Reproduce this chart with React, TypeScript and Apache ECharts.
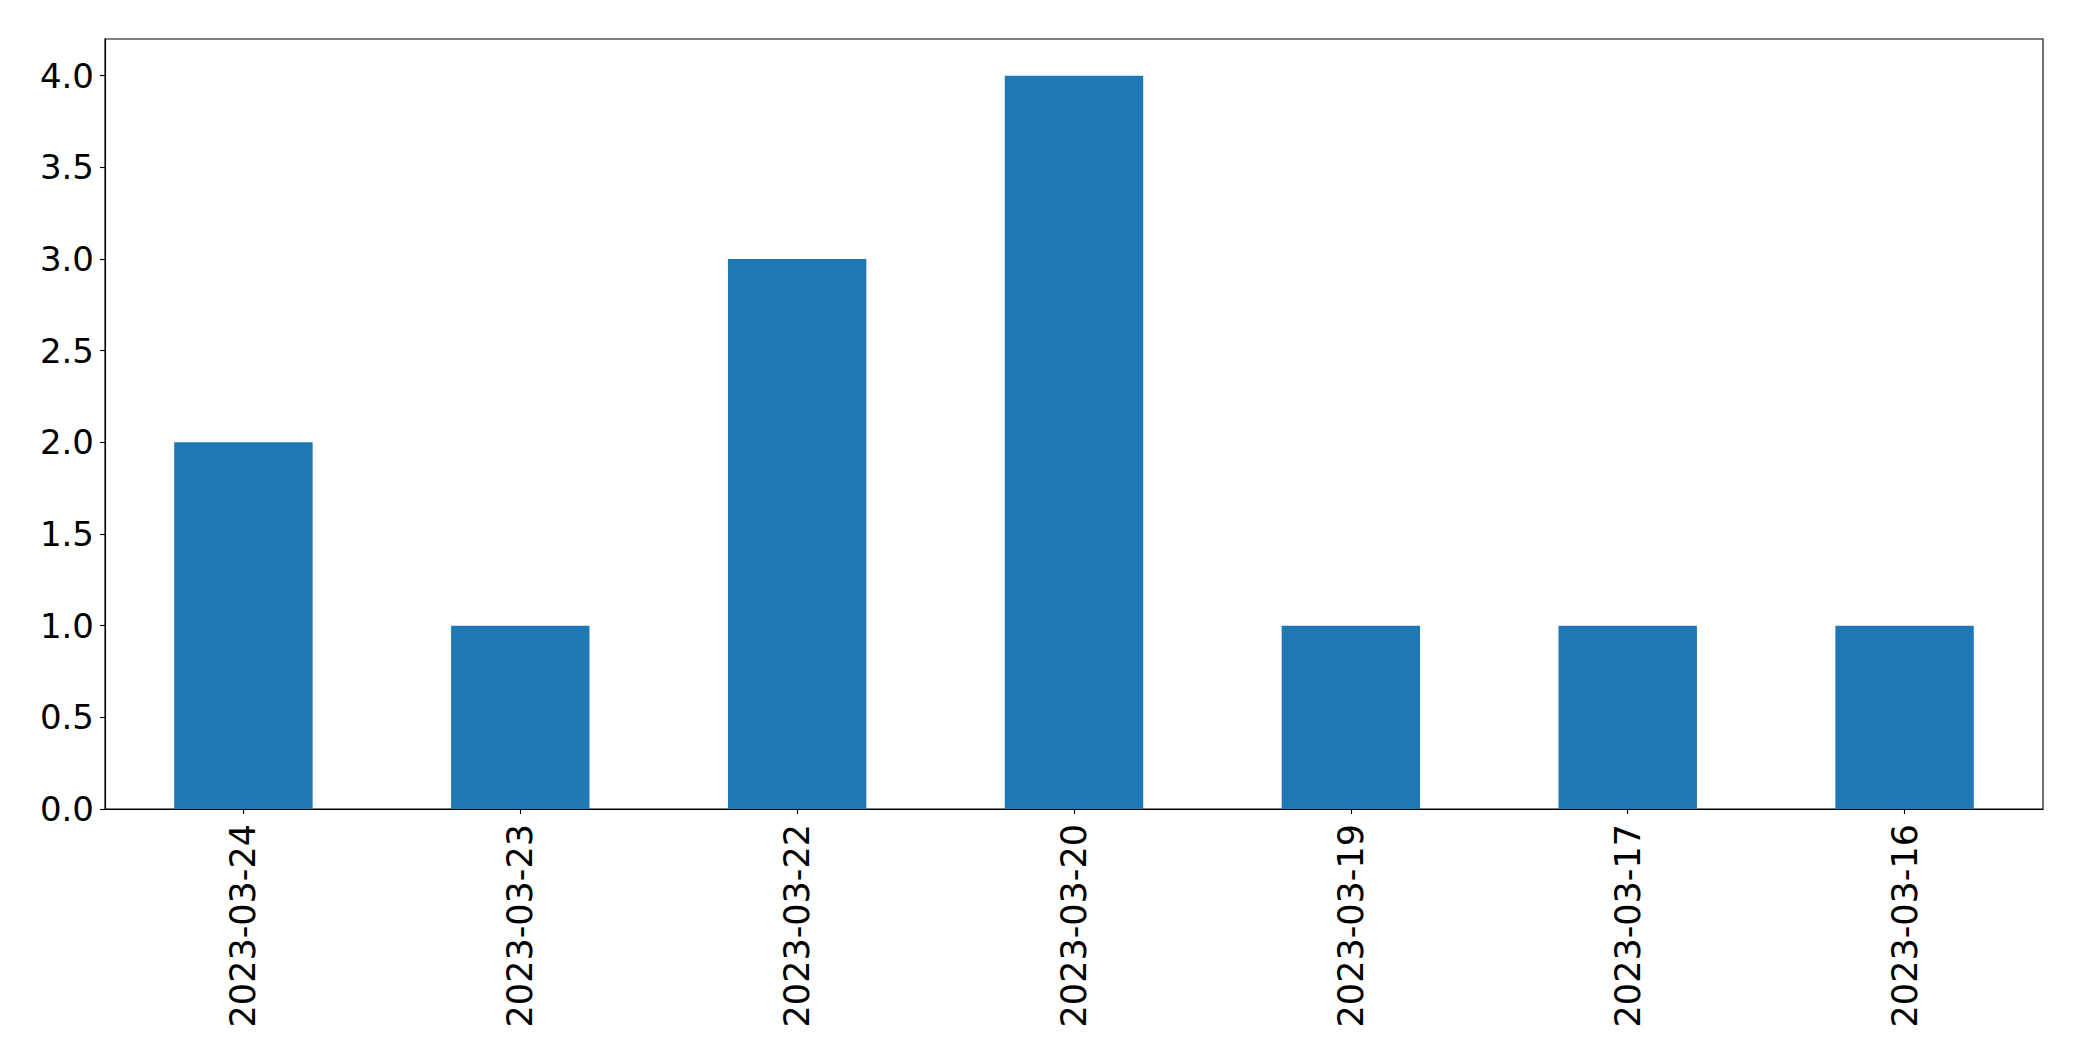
import React, { useEffect, useRef } from "react";
import * as echarts from "echarts";

const categories = ["2023-03-24", "2023-03-23", "2023-03-22", "2023-03-20", "2023-03-19", "2023-03-17", "2023-03-16"];
const counts = [2, 1, 3, 4, 1, 1, 1];
const yTicks = [0, 0.5, 1.0, 1.5, 2.0, 2.5, 3.0, 3.5, 4.0];

export default function App() {
  const ref = useRef<HTMLDivElement>(null);
  useEffect(() => {
    if (!ref.current) return;
    const chart = echarts.init(ref.current, undefined, { renderer: "svg" });
    const font = "DejaVu Sans";
    chart.setOption({
      animation: false,
      backgroundColor: "#ffffff",
      grid: {
        left: 105,
        top: 39,
        right: 39,
        bottom: 252,
        show: true,
        borderColor: "#000000",
        borderWidth: 1.1,
        containLabel: false,
      },
      xAxis: {
        type: "category",
        data: categories,
        boundaryGap: true,
        axisLine: { show: true, lineStyle: { color: "#000000", width: 1.1 } },
        axisTick: { show: true, alignWithLabel: true, length: 5, lineStyle: { color: "#000000", width: 1.1 } },
        axisLabel: {
          rotate: 90,
          margin: 15,
          fontSize: 35,
          fontFamily: font,
          color: "#000000",
          interval: 0,
        },
        splitLine: { show: false },
      },
      yAxis: {
        type: "value",
        min: 0,
        max: 4.2,
        interval: 0.5,
        axisLine: { show: true, lineStyle: { color: "#000000", width: 1.1 } },
        axisTick: { show: true, length: 5, lineStyle: { color: "#000000", width: 1.1 }, customValues: yTicks },
        axisLabel: {
          margin: 11,
          fontSize: 34,
          fontFamily: font,
          color: "#000000",
          customValues: yTicks,
          formatter: (v: number) => v.toFixed(1),
        },
        splitLine: { show: false },
      },
      series: [
        {
          type: "bar",
          data: counts,
          barWidth: "50%",
          itemStyle: { color: "#1f77b4" },
        },
      ],
    });
    return () => chart.dispose();
  }, []);
  return (
    <div
      ref={ref}
      style={{ position: "fixed", left: 0, top: 0, width: 2082, height: 1061, background: "#fff" }}
    />
  );
}
